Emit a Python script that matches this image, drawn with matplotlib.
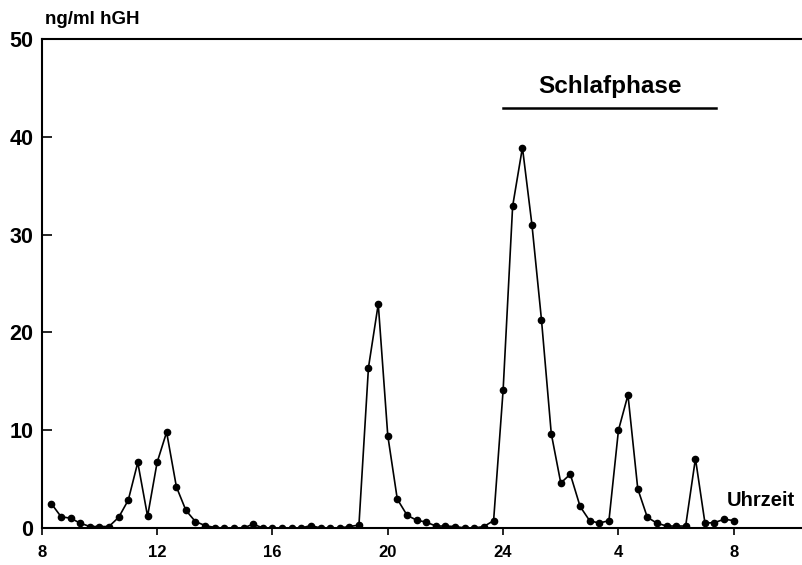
# -*- coding: utf-8 -*-
"""
hGH-Spiegel im Tagesverlauf (Schlafphase markiert)
"""

import matplotlib
matplotlib.use('Agg')
import matplotlib.pyplot as plt

# Messzeitpunkte in Stunden ab 0 Uhr des ersten Tages (alle 20 min)
hours = [8.33, 8.67, 9.0, 9.33, 9.67, 10.0, 10.33, 10.67, 11.0, 11.33, 11.67, 12.0,
         12.33, 12.67, 13.0, 13.33, 13.67, 14.0, 14.33, 14.67, 15.0, 15.33, 15.67, 16.0,
         16.33, 16.67, 17.0, 17.33, 17.67, 18.0, 18.33, 18.67, 19.0, 19.33, 19.67, 20.0,
         20.33, 20.67, 21.0, 21.33, 21.67, 22.0, 22.33, 22.67, 23.0, 23.33, 23.67, 24.0,
         24.33, 24.67, 25.0, 25.33, 25.67, 26.0, 26.33, 26.67, 27.0, 27.33, 27.67, 28.0,
         28.33, 28.67, 29.0, 29.33, 29.67, 30.0, 30.33, 30.67, 31.0, 31.33, 31.67, 32.0]

# hGH in ng/ml
hgh = [2.5, 1.15, 1.0, 0.5, 0.15, 0.15, 0.15, 1.1, 2.85, 6.7, 1.2, 6.7,
       9.8, 4.2, 1.8, 0.65, 0.25, 0.05, 0.0, 0.0, 0.0, 0.4, 0.0, 0.0,
       0.0, 0.0, 0.0, 0.25, 0.0, 0.0, 0.0, 0.15, 0.3, 16.4, 22.9, 9.45,
       2.95, 1.3, 0.8, 0.6, 0.2, 0.2, 0.15, 0.0, 0.0, 0.15, 0.75, 14.1,
       32.9, 38.9, 31.0, 21.3, 9.65, 4.6, 5.5, 2.2, 0.75, 0.5, 0.75, 10.0,
       13.6, 4.0, 1.1, 0.5, 0.2, 0.2, 0.2, 7.1, 0.5, 0.55, 0.9, 0.75]

tick_pos = [8, 12, 16, 20, 24, 28, 32]
tick_lab = ['8', '12', '16', '20', '24', '4', '8']
y_ticks = [0, 10, 20, 30, 40, 50]

sleep_start, sleep_end = 24, 31.4

plt.rcParams['font.family'] = ['Liberation Sans', 'DejaVu Sans']
plt.rcParams['font.weight'] = 'bold'

fig = plt.figure(figsize=(8.03, 5.65), dpi=100)
ax = fig.add_axes([0.052, 0.0655, 0.948, 0.8655])

ax.plot(hours, hgh, color='black', lw=1.2, marker='o', ms=4.5,
        markerfacecolor='black', markeredgecolor='black')

ax.set_xlim(8, 34.4)
ax.set_ylim(0, 50)
ax.set_xticks(tick_pos)
ax.set_xticklabels(tick_lab)
ax.set_yticks(y_ticks)

for s in ['left', 'bottom', 'top']:
    ax.spines[s].set_linewidth(1.5)
ax.spines['right'].set_visible(False)

ax.tick_params(axis='x', direction='out', length=5, width=1.2, labelsize=12, pad=7)
ax.tick_params(axis='y', direction='in', length=7, width=1.2, labelsize=15.5, pad=6)
for lab in ax.get_xticklabels() + ax.get_yticklabels():
    lab.set_fontweight('bold')

# Beschriftungen
fig.text(0.056, 0.965, 'ng/ml hGH', fontsize=13.5, fontweight='bold', va='center', ha='left')
ax.plot([sleep_start, sleep_end], [42.9, 42.9], color='black', lw=1.8, clip_on=False)
ax.text((sleep_start + sleep_end) / 2, 45.1, 'Schlafphase', fontsize=17.5, fontweight='bold',
        ha='center', va='center')
ax.text(31.75, 2.8, 'Uhrzeit', fontsize=14.5, fontweight='bold', ha='left', va='center')

fig.savefig('out.png', dpi=100)
